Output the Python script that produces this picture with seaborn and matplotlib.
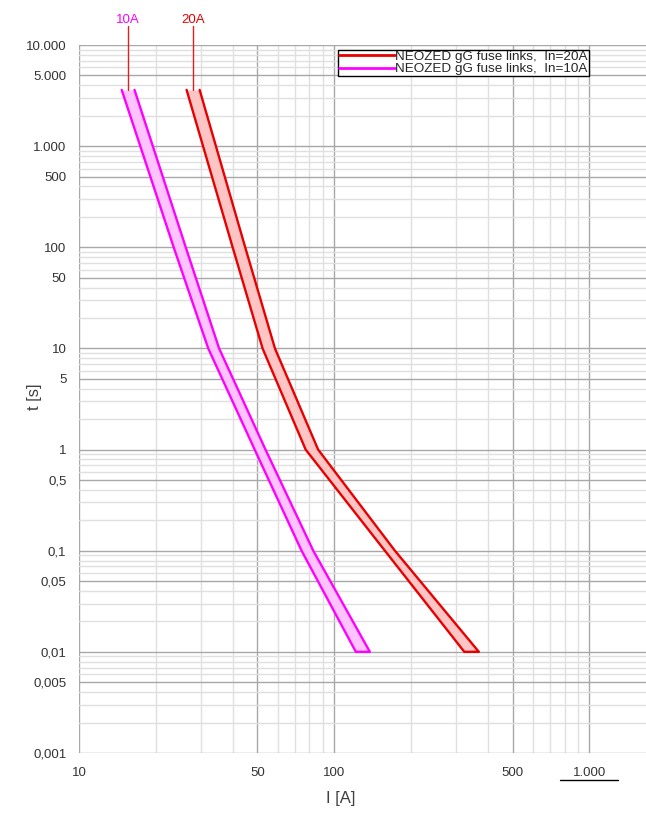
import matplotlib
matplotlib.use("Agg")
import matplotlib.pyplot as plt
import matplotlib.ticker as mticker
from matplotlib.lines import Line2D
import seaborn as sns
import pandas as pd
import numpy as np

# tiempos de los nodos de la curva (s)
t_nodes = [3600, 100, 10, 1, 0.1, 0.01]
# corriente minima / maxima de la banda (A)
i10_min = [14.7, 23.5, 32.1, 48.8, 74.5, 121.6]
i10_max = [16.5, 26.2, 35.4, 53.8, 82.8, 138.0]
i20_min = [26.4, 40.0, 52.4, 77.3, 158.0, 323.6]
i20_max = [29.7, 44.8, 58.6, 86.5, 173.0, 369.0]

curves = ["20A", "10A"]
legend_labels = ["NEOZED gG fuse links,  In=20A", "NEOZED gG fuse links,  In=10A"]
line_colors = ["#e80000", "#ff00ff"]
fill_colors = ["#ffc4c4", "#ffc4ff"]

x_ticks = [10, 50, 100, 500, 1000]
x_labels = ["10", "50", "100", "500", "1.000"]
y_ticks = [0.001, 0.005, 0.01, 0.05, 0.1, 0.5, 1, 5, 10, 50, 100, 500, 1000, 5000, 10000]
y_labels = ["0,001", "0,005", "0,01", "0,05", "0,1", "0,5", "1", "5", "10", "50",
            "100", "500", "1.000", "5.000", "10.000"]

sns.set_style("white")
plt.rcParams["font.family"] = ["Liberation Sans", "DejaVu Sans"]

fig = plt.figure(figsize=(6.46, 8.14), dpi=100)
ax = fig.add_axes([79 / 646, 1 - 753 / 814, 567 / 646, 708 / 814])
ax.set_xscale("log")
ax.set_yscale("log")
ax.set_xlim(10, 1667)
ax.set_ylim(0.001, 10000)

bandas = {"20A": (i20_min, i20_max), "10A": (i10_min, i10_max)}
for nombre, label, lc, fc in zip(curves, legend_labels, line_colors, fill_colors):
    imin, imax = bandas[nombre]
    ax.fill_betweenx(t_nodes, imin, imax, color=fc, lw=0, zorder=2)
    contorno = pd.DataFrame({
        "I": list(imin) + list(imax[::-1]),
        "t": list(t_nodes) + list(t_nodes[::-1]),
    })
    sns.lineplot(data=contorno, x="I", y="t", sort=False, estimator=None,
                 color=lc, lw=1.7, label=label, ax=ax, zorder=3)

    # etiqueta arriba de la banda
    xm = np.sqrt(imin[0] * imax[0])
    ytop = ax.transAxes.inverted().transform(ax.transData.transform((xm, t_nodes[0])))[1]
    trans = ax.get_xaxis_transform()
    ax.plot([xm, xm], [ytop, 1.027], color="#e02020", lw=1, transform=trans, clip_on=False)
    ax.text(xm, 1.036, nombre, color=lc, fontsize=9.5, ha="center", va="center",
            transform=trans, clip_on=False)

# grilla
ax.xaxis.set_major_locator(mticker.FixedLocator(x_ticks))
ax.xaxis.set_major_formatter(mticker.FixedFormatter(x_labels))
ax.yaxis.set_major_locator(mticker.FixedLocator(y_ticks))
ax.yaxis.set_major_formatter(mticker.FixedFormatter(y_labels))
ax.xaxis.set_minor_locator(mticker.LogLocator(base=10, subs=[2, 3, 4, 6, 7, 8, 9]))
ax.yaxis.set_minor_locator(mticker.LogLocator(base=10, subs=[2, 3, 4, 6, 7, 8, 9], numticks=20))
ax.xaxis.set_minor_formatter(mticker.NullFormatter())
ax.yaxis.set_minor_formatter(mticker.NullFormatter())
ax.grid(which="major", color="#a8a8a8", lw=1.0, zorder=0)
ax.grid(which="minor", color="#e0e0e0", lw=1.0, zorder=0)
ax.set_axisbelow(True)
for s in ax.spines.values():
    s.set_visible(False)
ax.tick_params(which="both", length=0, labelsize=9.5, labelcolor="#333333")
ax.tick_params(axis="y", pad=9)
ax.tick_params(axis="x", pad=10)

ax.set_xlabel("I [A]", fontsize=12, color="#404040")
ax.set_ylabel("t [s]", fontsize=12, color="#404040")
ax.xaxis.set_label_coords(0.462, -0.054)
ax.yaxis.set_label_coords(-0.066, 0.503)

leg = ax.legend(loc="upper left", bbox_to_anchor=(0.457, 0.993), borderaxespad=0,
                borderpad=0.05, handlelength=4.2, handletextpad=0.0, labelspacing=0.0,
                fontsize=9.7, fancybox=False, framealpha=1, edgecolor="black")
leg.get_frame().set_linewidth(1.0)
for h in leg.get_lines():
    h.set_linewidth(2)

# subrayado bajo "1.000"
fig.add_artist(Line2D([560 / 646, 618 / 646], [1 - 780 / 814, 1 - 780 / 814],
                      color="black", lw=1))

fig.savefig("out.png", dpi=100)
